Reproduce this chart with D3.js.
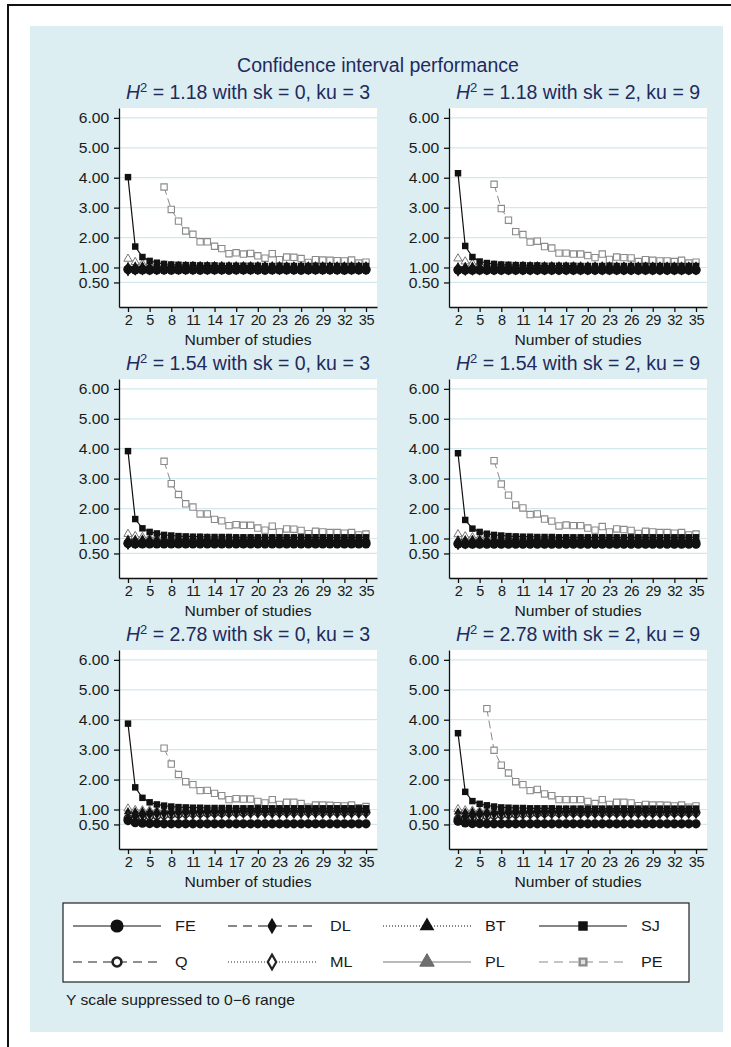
<!DOCTYPE html>
<html><head><meta charset="utf-8">
<script src="https://cdn.jsdelivr.net/npm/d3@7"></script>
<style>body{margin:0;background:#fff}svg{display:block}text{font-family:"Liberation Sans",Arial,Helvetica,sans-serif}</style>
</head><body><svg id="c" width="731" height="1047"></svg>
<script>
// ---------------- DATA ----------------
const studies = [2,3,4,5,6,7,8,9,10,11,12,13,14,15,16,17,18,19,20,21,22,23,24,25,26,27,28,29,30,31,32,33,34,35];
const xTicks = [2,5,8,11,14,17,20,23,26,29,32,35];
const yTicks = [0.5,1,2,3,4,5,6];
const seriesNames = ["FE","DL","BT","SJ","Q","ML","PL","PE"];
const h2Values = ["1.18","1.18","1.54","1.54","2.78","2.78"];
const skValues = ["0","2","0","2","0","2"];
const kuValues = ["3","9","3","9","3","9"];
const n = null;

// Panel 1: H2=1.18, sk=0, ku=3
const p1FE = [0.93,0.92,0.92,0.91,0.92,0.92,0.91,0.92,0.92,0.92,0.91,0.92,0.92,0.92,0.91,0.92,0.92,0.92,0.92,0.91,0.92,0.92,0.92,0.92,0.91,0.92,0.92,0.92,0.92,0.92,0.91,0.92,0.92,0.92];
const p1Q  = [0.94,0.94,0.94,0.94,0.94,0.94,0.94,0.94,0.94,0.94,0.94,0.94,0.94,0.94,0.94,0.94,0.94,0.94,0.94,0.94,0.94,0.94,0.94,0.94,0.94,0.94,0.94,0.94,0.94,0.94,0.94,0.94,0.94,0.94];
const p1DL = [0.93,0.95,0.96,0.96,0.96,0.97,0.97,0.97,0.97,0.97,0.97,0.97,0.97,0.97,0.97,0.97,0.97,0.97,0.97,0.97,0.97,0.97,0.97,0.97,0.97,0.97,0.97,0.97,0.97,0.97,0.97,0.97,0.97,0.97];
const p1ML = [0.94,0.96,0.97,0.97,0.98,0.98,0.98,0.98,0.98,0.98,0.98,0.98,0.98,0.98,0.98,0.98,0.98,0.98,0.98,0.98,0.98,0.98,0.98,0.98,0.98,0.98,0.98,0.98,0.98,0.98,0.98,0.98,0.98,0.98];
const p1BT = [1.03,1.04,1.04,1.03,1.03,1.03,1.02,1.02,1.02,1.02,1.02,1.02,1.02,1.02,1.02,1.02,1.02,1.02,1.02,1.02,1.02,1.02,1.02,1.02,1.02,1.02,1.02,1.02,1.02,1.02,1.02,1.02,1.02,1.02];
const p1PL = [1.29,1.18,1.12,1.09,1.08,1.07,1.06,1.05,1.05,1.05,1.04,1.04,1.04,1.04,1.03,1.03,1.03,1.03,1.03,1.03,1.03,1.03,1.02,1.02,1.02,1.02,1.02,1.02,1.02,1.02,1.02,1.02,1.02,1.02];
const p1SJ = [4.02,1.70,1.35,1.22,1.16,1.12,1.10,1.09,1.08,1.08,1.07,1.07,1.07,1.06,1.06,1.06,1.06,1.06,1.06,1.05,1.05,1.05,1.05,1.05,1.05,1.05,1.05,1.05,1.05,1.05,1.05,1.05,1.05,1.05];
const p1PE = [n,n,n,n,n,3.69,2.94,2.55,2.22,2.11,1.86,1.86,1.71,1.63,1.46,1.49,1.45,1.47,1.39,1.31,1.46,1.26,1.35,1.34,1.30,1.17,1.26,1.25,1.24,1.23,1.22,1.25,1.15,1.18];

// Panel 2: H2=1.18, sk=2, ku=9
const p2FE = [0.92,0.91,0.91,0.91,0.91,0.91,0.91,0.91,0.91,0.91,0.91,0.91,0.91,0.91,0.91,0.91,0.91,0.91,0.91,0.91,0.91,0.91,0.91,0.91,0.91,0.91,0.91,0.91,0.91,0.91,0.91,0.91,0.91,0.91];
const p2Q  = [0.93,0.93,0.93,0.93,0.93,0.93,0.93,0.93,0.93,0.93,0.93,0.93,0.93,0.93,0.93,0.93,0.93,0.93,0.93,0.93,0.93,0.93,0.93,0.93,0.93,0.93,0.93,0.93,0.93,0.93,0.93,0.93,0.93,0.93];
const p2DL = [0.92,0.94,0.95,0.96,0.96,0.96,0.96,0.96,0.96,0.96,0.96,0.96,0.96,0.96,0.96,0.96,0.96,0.96,0.96,0.96,0.96,0.96,0.96,0.96,0.96,0.96,0.96,0.96,0.96,0.96,0.96,0.96,0.96,0.96];
const p2ML = [0.93,0.95,0.96,0.97,0.97,0.97,0.97,0.97,0.97,0.97,0.97,0.97,0.97,0.97,0.97,0.97,0.97,0.97,0.97,0.97,0.97,0.97,0.97,0.97,0.97,0.97,0.97,0.97,0.97,0.97,0.97,0.97,0.97,0.97];
const p2BT = [1.02,1.03,1.03,1.03,1.02,1.02,1.02,1.02,1.02,1.02,1.02,1.02,1.02,1.02,1.02,1.02,1.02,1.02,1.02,1.02,1.02,1.02,1.02,1.02,1.02,1.02,1.02,1.02,1.02,1.02,1.02,1.02,1.02,1.02];
const p2PL = [1.30,1.20,1.13,1.10,1.08,1.07,1.06,1.05,1.05,1.05,1.04,1.04,1.04,1.04,1.03,1.03,1.03,1.03,1.03,1.03,1.03,1.03,1.02,1.02,1.02,1.02,1.02,1.02,1.02,1.02,1.02,1.02,1.02,1.02];
const p2SJ = [4.15,1.72,1.35,1.20,1.15,1.12,1.10,1.09,1.08,1.08,1.07,1.07,1.06,1.06,1.06,1.06,1.06,1.05,1.05,1.05,1.05,1.05,1.05,1.05,1.05,1.05,1.05,1.05,1.05,1.05,1.05,1.05,1.05,1.05];
const p2PE = [n,n,n,n,n,3.78,2.97,2.58,2.20,2.10,1.85,1.88,1.70,1.65,1.48,1.48,1.45,1.45,1.40,1.33,1.45,1.27,1.35,1.33,1.32,1.20,1.26,1.24,1.22,1.22,1.20,1.24,1.15,1.18];

// Panel 3: H2=1.54, sk=0, ku=3
const p3FE = [0.83,0.82,0.82,0.82,0.82,0.82,0.82,0.82,0.82,0.82,0.82,0.82,0.82,0.82,0.82,0.82,0.82,0.82,0.82,0.82,0.82,0.82,0.82,0.82,0.82,0.82,0.82,0.82,0.82,0.82,0.82,0.82,0.82,0.82];
const p3Q  = [0.84,0.85,0.86,0.86,0.86,0.86,0.86,0.86,0.86,0.86,0.86,0.86,0.86,0.86,0.86,0.86,0.86,0.86,0.86,0.86,0.86,0.86,0.86,0.86,0.86,0.86,0.86,0.86,0.86,0.86,0.86,0.86,0.86,0.86];
const p3DL = [0.84,0.87,0.89,0.90,0.90,0.91,0.91,0.91,0.91,0.91,0.91,0.91,0.91,0.91,0.91,0.91,0.91,0.91,0.91,0.91,0.91,0.91,0.91,0.91,0.91,0.91,0.91,0.91,0.91,0.91,0.91,0.91,0.91,0.91];
const p3ML = [0.85,0.88,0.90,0.91,0.92,0.92,0.92,0.92,0.92,0.92,0.92,0.92,0.92,0.92,0.92,0.92,0.92,0.92,0.92,0.92,0.92,0.92,0.92,0.92,0.92,0.92,0.92,0.92,0.92,0.92,0.92,0.92,0.92,0.92];
const p3BT = [0.97,0.97,0.97,0.97,0.97,0.97,0.97,0.97,0.97,0.97,0.97,0.97,0.97,0.97,0.97,0.97,0.97,0.97,0.97,0.97,0.97,0.97,0.97,0.97,0.97,0.97,0.97,0.97,0.97,0.97,0.97,0.97,0.97,0.97];
const p3PL = [1.15,1.08,1.05,1.03,1.02,1.01,1.01,1.00,1.00,1.00,1.00,1.00,0.99,0.99,0.99,0.99,0.99,0.99,0.99,0.99,0.99,0.99,0.99,0.99,0.99,0.99,0.99,0.99,0.99,0.99,0.99,0.99,0.99,0.99];
const p3SJ = [3.92,1.65,1.34,1.22,1.17,1.12,1.10,1.08,1.07,1.06,1.06,1.05,1.05,1.05,1.05,1.04,1.04,1.04,1.04,1.04,1.04,1.04,1.04,1.04,1.04,1.04,1.04,1.04,1.04,1.04,1.04,1.04,1.04,1.04];
const p3PE = [n,n,n,n,n,3.58,2.83,2.47,2.16,2.05,1.82,1.82,1.64,1.59,1.43,1.46,1.44,1.44,1.35,1.28,1.41,1.22,1.32,1.31,1.27,1.16,1.24,1.22,1.20,1.20,1.18,1.20,1.12,1.15];

// Panel 4: H2=1.54, sk=2, ku=9
const p4FE = [0.82,0.81,0.81,0.81,0.81,0.81,0.81,0.81,0.81,0.81,0.81,0.81,0.81,0.81,0.81,0.81,0.81,0.81,0.81,0.81,0.81,0.81,0.81,0.81,0.81,0.81,0.81,0.81,0.81,0.81,0.81,0.81,0.81,0.81];
const p4Q  = [0.83,0.84,0.85,0.85,0.85,0.85,0.85,0.85,0.85,0.85,0.85,0.85,0.85,0.85,0.85,0.85,0.85,0.85,0.85,0.85,0.85,0.85,0.85,0.85,0.85,0.85,0.85,0.85,0.85,0.85,0.85,0.85,0.85,0.85];
const p4DL = [0.83,0.86,0.88,0.89,0.90,0.90,0.90,0.90,0.90,0.90,0.90,0.90,0.90,0.90,0.90,0.90,0.90,0.90,0.90,0.90,0.90,0.90,0.90,0.90,0.90,0.90,0.90,0.90,0.90,0.90,0.90,0.90,0.90,0.90];
const p4ML = [0.84,0.87,0.89,0.90,0.91,0.91,0.91,0.91,0.91,0.91,0.91,0.91,0.91,0.91,0.91,0.91,0.91,0.91,0.91,0.91,0.91,0.91,0.91,0.91,0.91,0.91,0.91,0.91,0.91,0.91,0.91,0.91,0.91,0.91];
const p4BT = [0.96,0.96,0.96,0.96,0.96,0.96,0.96,0.96,0.96,0.96,0.96,0.96,0.96,0.96,0.96,0.96,0.96,0.96,0.96,0.96,0.96,0.96,0.96,0.96,0.96,0.96,0.96,0.96,0.96,0.96,0.96,0.96,0.96,0.96];
const p4PL = [1.14,1.07,1.04,1.03,1.02,1.01,1.00,1.00,1.00,1.00,0.99,0.99,0.99,0.99,0.99,0.99,0.99,0.99,0.99,0.99,0.99,0.99,0.99,0.99,0.99,0.99,0.99,0.99,0.99,0.99,0.99,0.99,0.99,0.99];
const p4SJ = [3.85,1.62,1.33,1.22,1.16,1.12,1.10,1.08,1.07,1.06,1.06,1.05,1.05,1.05,1.04,1.04,1.04,1.04,1.04,1.04,1.04,1.04,1.04,1.04,1.04,1.04,1.04,1.04,1.04,1.04,1.04,1.04,1.04,1.04];
const p4PE = [n,n,n,n,n,3.60,2.82,2.45,2.12,2.02,1.80,1.82,1.65,1.58,1.42,1.45,1.43,1.43,1.35,1.28,1.40,1.22,1.32,1.30,1.27,1.17,1.24,1.22,1.20,1.20,1.18,1.20,1.12,1.15];

// Panel 5: H2=2.78, sk=0, ku=3
const p5FE = [0.63,0.56,0.54,0.53,0.53,0.52,0.52,0.52,0.52,0.52,0.52,0.52,0.52,0.52,0.52,0.52,0.52,0.52,0.52,0.52,0.52,0.52,0.52,0.52,0.52,0.52,0.52,0.52,0.52,0.52,0.52,0.52,0.52,0.52];
const p5Q  = [0.70,0.73,0.76,0.78,0.80,0.82,0.84,0.85,0.86,0.87,0.88,0.88,0.89,0.89,0.90,0.90,0.90,0.91,0.91,0.91,0.91,0.91,0.91,0.91,0.91,0.91,0.91,0.91,0.91,0.91,0.91,0.91,0.91,0.91];
const p5DL = [0.68,0.78,0.82,0.85,0.87,0.88,0.89,0.90,0.91,0.91,0.92,0.92,0.92,0.92,0.93,0.93,0.93,0.93,0.93,0.93,0.93,0.93,0.93,0.93,0.93,0.93,0.93,0.93,0.93,0.93,0.93,0.93,0.93,0.93];
const p5ML = [0.72,0.74,0.76,0.78,0.80,0.82,0.84,0.85,0.86,0.87,0.88,0.89,0.89,0.90,0.90,0.90,0.91,0.91,0.91,0.91,0.91,0.91,0.91,0.91,0.91,0.91,0.91,0.91,0.91,0.91,0.91,0.91,0.91,0.91];
const p5BT = [0.92,0.92,0.93,0.93,0.94,0.94,0.94,0.94,0.95,0.95,0.95,0.95,0.95,0.95,0.95,0.95,0.95,0.95,0.95,0.95,0.95,0.95,0.95,0.95,0.95,0.95,0.95,0.95,0.95,0.95,0.95,0.95,0.95,0.95];
const p5PL = [1.03,0.98,0.97,0.97,0.97,0.97,0.97,0.97,0.97,0.97,0.97,0.97,0.97,0.97,0.97,0.97,0.97,0.97,0.97,0.97,0.97,0.97,0.97,0.97,0.97,0.97,0.97,0.97,0.97,0.97,0.97,0.97,0.97,0.97];
const p5SJ = [3.87,1.74,1.39,1.24,1.17,1.13,1.10,1.08,1.07,1.06,1.06,1.05,1.05,1.05,1.05,1.04,1.04,1.04,1.04,1.04,1.04,1.04,1.04,1.04,1.04,1.04,1.04,1.04,1.04,1.04,1.04,1.04,1.04,1.04];
const p5PE = [n,n,n,n,n,3.05,2.52,2.17,1.93,1.83,1.63,1.64,1.54,1.46,1.33,1.36,1.35,1.35,1.27,1.22,1.33,1.17,1.24,1.24,1.20,1.08,1.15,1.15,1.14,1.13,1.12,1.15,1.06,1.10];

// Panel 6: H2=2.78, sk=2, ku=9
const p6FE = [0.61,0.55,0.53,0.53,0.52,0.52,0.52,0.52,0.52,0.52,0.52,0.52,0.52,0.52,0.52,0.52,0.52,0.52,0.52,0.52,0.52,0.52,0.52,0.52,0.52,0.52,0.52,0.52,0.52,0.52,0.52,0.52,0.52,0.52];
const p6Q  = [0.68,0.71,0.74,0.77,0.79,0.81,0.83,0.84,0.85,0.86,0.87,0.88,0.88,0.89,0.89,0.90,0.90,0.90,0.90,0.90,0.90,0.90,0.90,0.90,0.90,0.90,0.90,0.90,0.90,0.90,0.90,0.90,0.90,0.90];
const p6DL = [0.66,0.76,0.81,0.84,0.86,0.87,0.88,0.89,0.90,0.90,0.91,0.91,0.91,0.92,0.92,0.92,0.92,0.92,0.92,0.92,0.92,0.92,0.92,0.92,0.92,0.92,0.92,0.92,0.92,0.92,0.92,0.92,0.92,0.92];
const p6ML = [0.70,0.72,0.75,0.77,0.79,0.81,0.83,0.84,0.85,0.86,0.87,0.88,0.89,0.89,0.90,0.90,0.90,0.90,0.90,0.90,0.90,0.90,0.90,0.90,0.90,0.90,0.90,0.90,0.90,0.90,0.90,0.90,0.90,0.90];
const p6BT = [0.91,0.91,0.92,0.92,0.93,0.93,0.93,0.94,0.94,0.94,0.94,0.94,0.94,0.94,0.94,0.94,0.94,0.94,0.94,0.94,0.94,0.94,0.94,0.94,0.94,0.94,0.94,0.94,0.94,0.94,0.94,0.94,0.94,0.94];
const p6PL = [1.01,0.97,0.96,0.96,0.96,0.96,0.96,0.96,0.96,0.96,0.96,0.96,0.96,0.96,0.96,0.96,0.96,0.96,0.96,0.96,0.96,0.96,0.96,0.96,0.96,0.96,0.96,0.96,0.96,0.96,0.96,0.96,0.96,0.96];
const p6SJ = [3.55,1.59,1.28,1.19,1.14,1.10,1.07,1.06,1.05,1.05,1.04,1.04,1.04,1.04,1.03,1.03,1.03,1.03,1.03,1.03,1.03,1.03,1.03,1.03,1.03,1.03,1.03,1.03,1.03,1.03,1.03,1.03,1.03,1.03];
const p6PE = [n,n,n,n,4.37,2.98,2.48,2.22,1.93,1.83,1.63,1.67,1.52,1.46,1.33,1.33,1.33,1.33,1.27,1.20,1.33,1.17,1.24,1.24,1.22,1.13,1.17,1.15,1.15,1.14,1.12,1.15,1.08,1.12];

const panelData = [
  {FE:p1FE,DL:p1DL,BT:p1BT,SJ:p1SJ,Q:p1Q,ML:p1ML,PL:p1PL,PE:p1PE},
  {FE:p2FE,DL:p2DL,BT:p2BT,SJ:p2SJ,Q:p2Q,ML:p2ML,PL:p2PL,PE:p2PE},
  {FE:p3FE,DL:p3DL,BT:p3BT,SJ:p3SJ,Q:p3Q,ML:p3ML,PL:p3PL,PE:p3PE},
  {FE:p4FE,DL:p4DL,BT:p4BT,SJ:p4SJ,Q:p4Q,ML:p4ML,PL:p4PL,PE:p4PE},
  {FE:p5FE,DL:p5DL,BT:p5BT,SJ:p5SJ,Q:p5Q,ML:p5ML,PL:p5PL,PE:p5PE},
  {FE:p6FE,DL:p6DL,BT:p6BT,SJ:p6SJ,Q:p6Q,ML:p6ML,PL:p6PL,PE:p6PE}
];

// ---------------- STYLES ----------------
const styles = {
  FE:{sym:d3.symbolCircle, size:66, fill:"#111", stroke:"none", sw:0, line:"#111", dash:null, lw:1, lsize:135},
  DL:{sym:d3.symbolDiamond, size:48, fill:"#111", stroke:"none", sw:0, line:"#111", dash:"5,4", lw:1, lsize:80},
  BT:{sym:d3.symbolTriangle, size:30, fill:"#111", stroke:"none", sw:0, line:"#111", dash:"1,2", lw:1, lsize:95},
  SJ:{sym:d3.symbolSquare, size:42, fill:"#111", stroke:"none", sw:0, line:"#111", dash:null, lw:1.2, lsize:90},
  Q:{sym:d3.symbolCircle, size:44, fill:"#fff", stroke:"#222", sw:1.5, line:"#222", dash:"5,4", lw:1, lsize:62, lsw:2.6},
  ML:{sym:d3.symbolDiamond, size:40, fill:"#fff", stroke:"#222", sw:1.2, line:"#222", dash:"1,2", lw:1, lsize:62, lsw:2.2},
  PL:{sym:d3.symbolTriangle, size:30, fill:"#fff", stroke:"#777", sw:1, line:"#777", dash:null, lw:1, lsize:90, lfill:"#6f6f6f", lstroke:"#666", lsw:1},
  PE:{sym:d3.symbolSquare, size:40, fill:"#fff", stroke:"#8a8a8a", sw:1.1, line:"#8a8a8a", dash:"8,4", lw:1, lsize:45, lfill:"#ddd", lsw:2.4}
};
const drawOrder = ["PE","PL","BT","ML","Q","DL","SJ","FE"];

// ---------------- LAYOUT ----------------
const svg = d3.select("#c");
const navy = "#1f2a5e";
const bg = "#dceef1";
const grid = "#d2e8ee";
const SX = 1.08; // horizontal stretch of the reference lettering

function stretch(sel){
  sel.each(function(){
    const t = d3.select(this);
    const x = +t.attr("x") || 0;
    t.attr("transform", `translate(${x},0) scale(${SX},1) translate(${-x},0)`);
  });
}

// outer frame
svg.append("rect").attr("x",8).attr("y",5).attr("width",740).attr("height",1060)
  .attr("fill","#fff").attr("stroke","#111").attr("stroke-width",2);
svg.append("rect").attr("x",30).attr("y",26).attr("width",693).attr("height",1006).attr("fill",bg);

svg.append("text").attr("x",378).attr("y",72).attr("text-anchor","middle")
  .attr("font-size",19.5).attr("fill",navy).text("Confidence interval performance");

const colX = [119,449], rowY = [108,379,650], PW = 258, PH = 199;

panelData.forEach((pd,i)=>{
  const x0 = colX[i%2], y0 = rowY[Math.floor(i/2)];
  const x = d3.scaleLinear().domain([0.752,36.525]).range([x0,x0+PW]);
  const y = d3.scaleLinear().domain([-0.32,6.33]).range([y0+PH,y0]);
  const g = svg.append("g");

  // panel title
  const t = g.append("text").attr("x",x0+PW/2).attr("y",y0-9).attr("text-anchor","middle")
    .attr("font-size",19.5).attr("fill",navy);
  t.append("tspan").attr("font-style","italic").text("H");
  t.append("tspan").attr("font-size",13).attr("dy",-7).text("2");
  t.append("tspan").attr("dy",7).text(" = " + h2Values[i] + " with sk = " + skValues[i] + ", ku = " + kuValues[i]);

  g.append("rect").attr("x",x0).attr("y",y0).attr("width",PW).attr("height",PH).attr("fill","#fff");
  g.selectAll(".grid").data(yTicks).join("line")
    .attr("x1",x0).attr("x2",x0+PW).attr("y1",d=>y(d)).attr("y2",d=>y(d))
    .attr("stroke",grid).attr("stroke-width",1.2);

  // series
  drawOrder.forEach(s=>{
    const st = styles[s];
    const vals = pd[s].map((v,j)=>({x:studies[j], v}));
    const line = d3.line().defined(d=>d.v!=null).x(d=>x(d.x)).y(d=>y(d.v));
    g.append("path").datum(vals).attr("d",line).attr("fill","none")
      .attr("stroke",st.line).attr("stroke-width",st.lw)
      .attr("stroke-dasharray",st.dash);
    g.selectAll(null).data(vals.filter(d=>d.v!=null)).join("path")
      .attr("transform",d=>`translate(${x(d.x)},${y(d.v)})`)
      .attr("d",d3.symbol().type(st.sym).size(st.size)())
      .attr("fill",st.fill).attr("stroke",st.stroke).attr("stroke-width",st.sw);
  });

  // axes
  const ya = g.append("g").attr("transform",`translate(${x0},0)`)
    .call(d3.axisLeft(y).tickValues(yTicks).tickFormat(d3.format(".2f")).tickSize(5).tickSizeOuter(0).tickPadding(4));
  const xa = g.append("g").attr("transform",`translate(0,${y0+PH})`)
    .call(d3.axisBottom(x).tickValues(xTicks).tickSize(5).tickSizeOuter(0).tickPadding(3));
  [ya,xa].forEach(a=>{
    a.attr("font-family",null).attr("font-size",null);
    a.selectAll("line,path").attr("stroke","#111").attr("stroke-width",1.3);
  });
  ya.selectAll("text").attr("font-size",14.5).attr("fill","#1a1a1a").attr("transform",`scale(${SX},1)`);
  xa.selectAll("text").attr("font-size",14.5).attr("fill","#1a1a1a").attr("letter-spacing","-0.4px");

  g.append("text").attr("x",x0+PW/2).attr("y",y0+PH+38).attr("text-anchor","middle")
    .attr("font-size",14.5).attr("fill","#1a1a1a").text("Number of studies").call(stretch);
});

// ---------------- LEGEND ----------------
const lg = svg.append("g");
lg.append("rect").attr("x",63).attr("y",903).attr("width",626).attr("height",79)
  .attr("fill","#fff").attr("stroke","#222").attr("stroke-width",1.2);
const legendItems = [
  ["FE",0,0],["DL",1,0],["BT",2,0],["SJ",3,0],
  ["Q",0,1],["ML",1,1],["PL",2,1],["PE",3,1]
];
const colStart = [73,228,383,539], rowC = [926,962];
legendItems.forEach(([s,c,r])=>{
  const st = styles[s];
  const lx = colStart[c], ly = rowC[r];
  lg.append("line").attr("x1",lx).attr("x2",lx+88).attr("y1",ly).attr("y2",ly)
    .attr("stroke",st.line).attr("stroke-width",1.2)
    .attr("stroke-dasharray", st.dash ? (st.dash==="1,2" ? "1,2" : "9,6") : null);
  lg.append("path").attr("transform",`translate(${lx+44},${ly})`)
    .attr("d",d3.symbol().type(st.sym).size(st.lsize)())
    .attr("fill",st.lfill || st.fill)
    .attr("stroke",st.lstroke || st.stroke)
    .attr("stroke-width",st.lsw || st.sw);
  lg.append("text").attr("x",lx+102).attr("y",ly+5.5).attr("font-size",15).attr("fill","#1a1a1a").text(s).call(stretch);
});

svg.append("text").attr("x",66).attr("y",1005).attr("font-size",14.5).attr("fill","#1a1a1a")
  .text("Y scale suppressed to 0\u22126 range").call(stretch);
</script></body></html>
